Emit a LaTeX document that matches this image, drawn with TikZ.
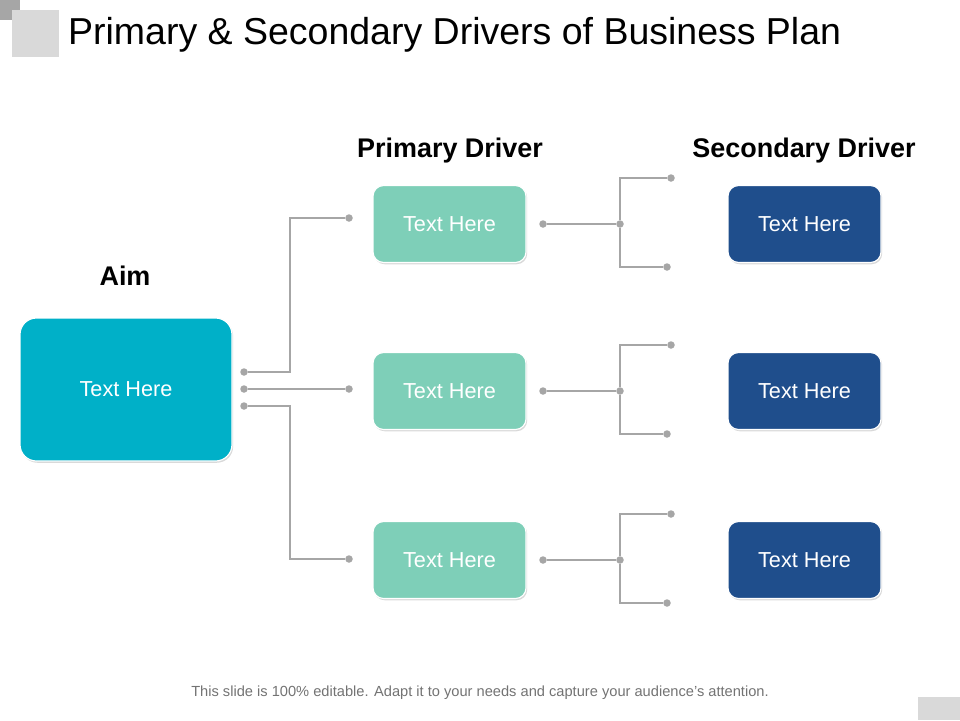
\documentclass[tikz,border=0pt]{standalone}
\usepackage{fontspec}
\setmainfont{Liberation Sans}
\usetikzlibrary{calc,shadows}
\definecolor{aimblue}{HTML}{00B0C8}
\definecolor{primgreen}{HTML}{7ECFB8}
\definecolor{secblue}{HTML}{1F4E8C}
\definecolor{wiregray}{HTML}{A6A6A6}
\tikzset{
  box/.style={rounded corners=9pt, text=white, font=\fontsize{18.5}{20}\selectfont,
    draw=white, line width=1pt, drop shadow={opacity=0.3, shadow xshift=1pt, shadow yshift=-1.5pt}},
  prim/.style={box, fill=primgreen, minimum width=153*0.03cm, minimum height=77*0.03cm},
  sec/.style={box, fill=secblue, minimum width=153*0.03cm, minimum height=77*0.03cm},
  head/.style={font=\bfseries\fontsize{23}{25}\selectfont},
  wire/.style={wiregray, line width=0.9pt},
  pt/.style={circle, fill=wiregray, inner sep=0pt, minimum size=7.5*0.03cm}
}
\begin{document}
\begin{tikzpicture}[x=0.03cm,y=-0.03cm]
	\useasboundingbox (0,0) rectangle (960,720);
	% corner marks
	\fill[gray!70] (0,0) rectangle (20,20);
	\fill[gray!30] (12,10) rectangle (59,57);
	\fill[gray!30] (918,697) rectangle (960,720);
	\node[anchor=west, font=\fontsize{32}{35}\selectfont] (title) at (64,35) {Primary \& Secondary Drivers of Business Plan};
	\node[font=\fontsize{12.5}{14}\selectfont, text=gray!90!black] (foot) at (480,693) {This slide is 100\% editable. Adapt it to your needs and capture your audience's attention.};

	% headings
	\node[head] (haim) at (125,276) {Aim};
	\node[head] (hprim) at (450,151) {Primary Driver};
	\node[head] (hsec) at (804,151) {Secondary Driver};

	% boxes
	\node[box, fill=aimblue, minimum width=212*0.03cm, minimum height=143*0.03cm, rounded corners=14pt] (aim) at (126,389.5) {Text Here};
	\foreach \i/\y in {1/224, 2/391, 3/560} {
		\node[prim] (p\i) at (449.5,\y) {Text Here};
		\node[sec] (s\i) at (804.5,\y) {Text Here};
	}

	% aim to primary
	\foreach \i/\y/\t in {1/372/218, 2/389/389, 3/406/559} {
		\node[pt] (a\i) at (244,\y) {};
		\node[pt] (b\i) at (349,\t) {};
	}
	\draw[wire] (a1) -- (290,372) |- (b1);
	\draw[wire] (a2) -- (b2);
	\draw[wire] (a3) -- (290,406) |- (b3);

	% primary to secondary
	\foreach \i/\y in {1/224, 2/391, 3/560} {
		\node[pt] (l\i) at (543,\y) {};
		\node[pt] (m\i) at (620,\y) {};
		\node[pt] (u\i) at (671,\y-46) {};
		\node[pt] (d\i) at (667,\y+43) {};
		\draw[wire] (l\i) -- (m\i);
		\draw[wire] (u\i) -| (m\i) |- (d\i);
	}
\end{tikzpicture}
\end{document}
